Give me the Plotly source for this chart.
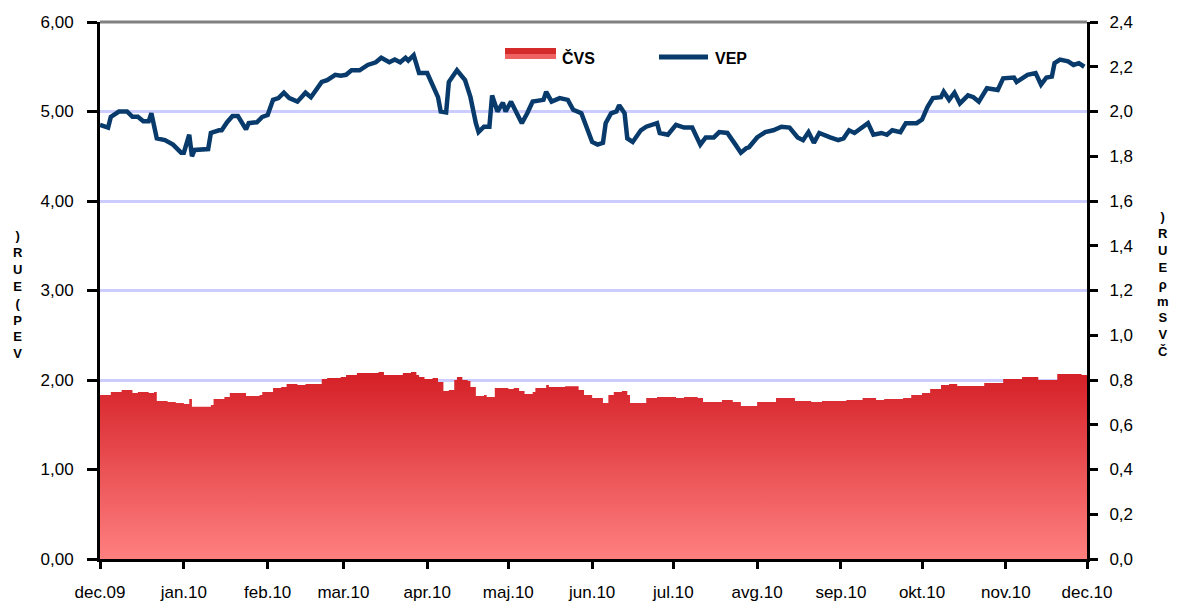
import pandas as pd
import plotly.graph_objects as go

# ---------------- data ----------------
base_date = "2009-12-01"

vep_day = [0, 3, 4, 7, 10, 12, 14, 16, 18, 19, 21, 24, 27, 30, 31, 33, 34, 35, 40, 41,
           44, 45, 47, 49, 51, 54, 55, 58, 60, 62, 64, 66, 68, 70, 73, 76, 78, 80, 82, 84,
           87, 89, 91, 93, 96, 99, 102, 104, 105, 107, 109, 111, 113, 114, 116,
           118, 121, 123, 125, 126, 128, 129, 132, 135, 137, 139, 140,
           142, 144, 145, 147, 149, 150, 152, 154, 156, 158, 160, 164, 165, 167, 170, 173, 175, 178, 180, 182,
           184, 186, 187, 189, 191, 192, 194, 195, 197, 200, 202, 206, 207, 210, 213, 216, 219, 222, 224, 227,
           229, 232, 235, 237, 239, 240, 243, 246, 249, 252, 255, 258, 260, 262, 264, 266, 270, 273, 275, 277,
           279, 282, 284, 286, 289, 291, 293, 296, 298, 302, 304, 306, 308, 311, 312, 314, 316, 318, 321, 323,
           325, 328, 332, 334, 338, 339, 343, 346, 348, 350, 352, 353, 355, 358, 360, 362, 364]
vep_val = [4.85, 4.82, 4.94, 5.00, 5.00, 4.94, 4.94, 4.89, 4.89, 4.98, 4.70, 4.68, 4.63, 4.54, 4.54, 4.74, 4.50, 4.57, 4.58, 4.76,
           4.79, 4.79, 4.88, 4.95, 4.95, 4.80, 4.87, 4.88, 4.94, 4.96, 5.13, 5.15, 5.21, 5.15, 5.11, 5.21, 5.16, 5.24, 5.33, 5.35,
           5.41, 5.40, 5.41, 5.46, 5.46, 5.52, 5.55, 5.60, 5.58, 5.55, 5.58, 5.55, 5.60, 5.57, 5.63,
           5.43, 5.43, 5.30, 5.16, 5.00, 4.99, 5.33, 5.46, 5.35, 5.16, 4.87, 4.77,
           4.83, 4.83, 5.18, 5.00, 5.10, 5.00, 5.11, 4.98, 4.87, 4.98, 5.11, 5.13, 5.22, 5.11, 5.15, 5.13, 5.02, 4.98, 4.82, 4.66,
           4.63, 4.65, 4.87, 4.98, 5.00, 5.07, 4.98, 4.70, 4.66, 4.79, 4.83, 4.87, 4.76, 4.74, 4.85, 4.82, 4.82, 4.63, 4.71, 4.71,
           4.77, 4.76, 4.63, 4.54, 4.59, 4.60, 4.71, 4.77, 4.79, 4.83, 4.82, 4.71, 4.68, 4.77, 4.65, 4.76, 4.71, 4.68, 4.70, 4.79,
           4.76, 4.82, 4.87, 4.74, 4.76, 4.74, 4.79, 4.77, 4.87, 4.87, 4.91, 5.05, 5.15, 5.16, 5.22, 5.13, 5.21, 5.09, 5.18, 5.16,
           5.11, 5.26, 5.24, 5.37, 5.38, 5.33, 5.41, 5.43, 5.30, 5.38, 5.39, 5.54, 5.58, 5.56, 5.52, 5.54, 5.50]

cvs_day = [0, 1, 4, 8, 12, 14, 18, 20, 21, 25, 28, 31, 33, 34, 41, 42, 46, 48, 53, 54,
           59, 60, 64, 67, 69, 73, 76, 81, 82, 84, 89, 91, 95, 101, 103, 105, 109, 112, 115, 117,
           118, 120, 123, 125, 127, 129, 131, 132, 134, 136, 137, 139, 142, 143, 146, 151, 153, 155, 157, 160,
           161, 165, 166, 171, 172, 177, 179, 182, 186, 188, 190, 193, 195, 196, 200, 202, 206, 213, 216, 221,
           223, 228, 230, 234, 237, 241, 243, 250, 255, 257, 263, 267, 276, 282, 287, 290, 297, 300, 304, 307,
           311, 314, 317, 322, 327, 329, 334, 339, 341, 345, 347, 349, 354, 359, 363, 365]
cvs_val = [0.733, 0.733, 0.746, 0.755, 0.742, 0.746, 0.742, 0.746, 0.706, 0.702, 0.697, 0.693, 0.715, 0.680, 0.688, 0.715, 0.724, 0.742, 0.742, 0.728,
           0.733, 0.746, 0.764, 0.769, 0.782, 0.778, 0.782, 0.782, 0.804, 0.809, 0.813, 0.822, 0.831, 0.831, 0.836, 0.822, 0.822, 0.831, 0.836, 0.822,
           0.813, 0.804, 0.809, 0.791, 0.751, 0.755, 0.800, 0.813, 0.800, 0.796, 0.769, 0.728, 0.733, 0.724, 0.764, 0.760, 0.764, 0.751, 0.737, 0.746,
           0.764, 0.778, 0.769, 0.769, 0.772, 0.755, 0.733, 0.720, 0.697, 0.733, 0.746, 0.751, 0.733, 0.697, 0.697, 0.720, 0.724, 0.720, 0.724, 0.720,
           0.702, 0.702, 0.711, 0.702, 0.684, 0.684, 0.702, 0.720, 0.720, 0.706, 0.702, 0.706, 0.711, 0.720, 0.711, 0.715, 0.720, 0.733, 0.742, 0.760,
           0.778, 0.782, 0.773, 0.773, 0.787, 0.787, 0.804, 0.804, 0.813, 0.813, 0.800, 0.800, 0.827, 0.827, 0.822, 0.822]

tick_dates = ["2009-12-01", "2010-01-01", "2010-02-01", "2010-03-01", "2010-04-01", "2010-05-01", "2010-06-01",
              "2010-07-01", "2010-08-01", "2010-09-01", "2010-10-01", "2010-11-01", "2010-12-01"]
tick_labels = ["dec.09", "jan.10", "feb.10", "mar.10", "apr.10", "maj.10", "jun.10",
               "jul.10", "avg.10", "sep.10", "okt.10", "nov.10", "dec.10"]

series_names = ["ČVS", "VEP"]
left_title_chars = [")", "R", "U", "E", "(", "P", "E", "V"]
right_title_chars = [")", "R", "U", "E", "ρ", "m", "S", "V", "Č"]

# ---------------- figure ----------------
b = pd.Timestamp(base_date)
vep_x = [b + pd.Timedelta(days=d) for d in vep_day]
cvs_x = [b + pd.Timedelta(days=d) for d in cvs_day]

FONT = "Arial, Liberation Sans, sans-serif"
RED_TOP = "#d41f26"
RED_BOT = "#ff8080"
BLUE = "#083b6b"

# page body adds an 8px offset, so the figure is sized/positioned to compensate
OFF = 8
W, H = 1172, 596
L, R, T, B = 92, 93, 14, 45
pw, ph = W - L - R, H - T - B


def px_x(px):
    return (px - OFF - L) / pw


def px_y(py):
    return (H - B - (py - OFF)) / ph


fig = go.Figure()

fig.add_trace(go.Scatter(
    x=cvs_x, y=cvs_val, name=series_names[0], yaxis="y2",
    mode="lines", line=dict(width=0, shape="hv", color=RED_TOP),
    fill="tozeroy",
    fillgradient=dict(type="vertical", colorscale=[[0, RED_BOT], [1, RED_TOP]], start=0, stop=0.836),
    showlegend=False, hoverinfo="skip",
))

fig.add_trace(go.Scatter(
    x=vep_x, y=vep_val, name=series_names[1], yaxis="y",
    mode="lines", line=dict(width=4.5, color=BLUE),
    showlegend=False,
))

fig.update_layout(
    template="none",
    width=W, height=H,
    margin=dict(l=L, r=R, t=T, b=B, autoexpand=False),
    paper_bgcolor="white", plot_bgcolor="white",
    separators=",.",
    font=dict(family=FONT, size=17, color="black"),
    xaxis=dict(
        type="date", range=["2009-12-01", "2010-12-01"],
        tickvals=tick_dates, ticktext=tick_labels,
        showgrid=False, zeroline=False, automargin=False,
        showline=True, linecolor="black", linewidth=3,
        ticks="outside", ticklen=7, tickwidth=3, tickcolor="black",
        ticklabelstandoff=9,
        tickfont=dict(size=17, family=FONT),
    ),
    yaxis=dict(
        range=[0, 6], dtick=1, tickformat=".2f",
        showgrid=True, gridcolor="#ccccff", gridwidth=3,
        zeroline=False, automargin=False,
        showline=True, linecolor="black", linewidth=3,
        ticks="outside", ticklen=10, tickwidth=3, tickcolor="black",
        ticklabelstandoff=10,
        tickfont=dict(size=17, family=FONT),
    ),
    yaxis2=dict(
        range=[0, 2.4], dtick=0.2, tickformat=".1f",
        overlaying="y", side="right",
        showgrid=False, zeroline=False, automargin=False,
        showline=True, linecolor="black", linewidth=3,
        ticks="outside", ticklen=8, tickwidth=3, tickcolor="black",
        ticklabelstandoff=8,
        tickfont=dict(size=17, family=FONT),
    ),
)

# grey top border at 6,00
fig.add_shape(type="line", xref="paper", yref="paper", x0=0, x1=1, y0=1, y1=1,
              line=dict(color="#808080", width=3), layer="above")

# manual legend
fig.add_shape(type="rect", xref="paper", yref="paper",
              x0=px_x(505), x1=px_x(556), y0=px_y(54), y1=px_y(48),
              line=dict(width=0), fillcolor="#d42a2a", layer="above")
fig.add_shape(type="rect", xref="paper", yref="paper",
              x0=px_x(505), x1=px_x(556), y0=px_y(59), y1=px_y(54),
              line=dict(width=0), fillcolor="#ee6262", layer="above")
fig.add_shape(type="line", xref="paper", yref="paper",
              x0=px_x(659), x1=px_x(708), y0=px_y(57), y1=px_y(57),
              line=dict(width=5, color=BLUE), layer="above")
fig.add_annotation(text="<b>" + series_names[0] + "</b>", xref="paper", yref="paper",
                   x=px_x(560), y=px_y(58), xanchor="left", yanchor="middle",
                   showarrow=False, font=dict(size=16, family=FONT, color="black"))
fig.add_annotation(text="<b>" + series_names[1] + "</b>", xref="paper", yref="paper",
                   x=px_x(713), y=px_y(58), xanchor="left", yanchor="middle",
                   showarrow=False, font=dict(size=16, family=FONT, color="black"))

# stacked axis titles (one text each, characters on separate lines)
fig.add_annotation(text="<b>" + "<br>".join(left_title_chars) + "</b>", xref="paper", yref="paper",
                   x=px_x(18), y=px_y(226), xanchor="center", yanchor="top", align="center",
                   showarrow=False, font=dict(size=13, family=FONT, color="black"))
fig.add_annotation(text="<b>" + "<br>".join(right_title_chars) + "</b>", xref="paper", yref="paper",
                   x=px_x(1163), y=px_y(207), xanchor="center", yanchor="top", align="center",
                   showarrow=False, font=dict(size=13, family=FONT, color="black"))

fig.write_html("out.html")
